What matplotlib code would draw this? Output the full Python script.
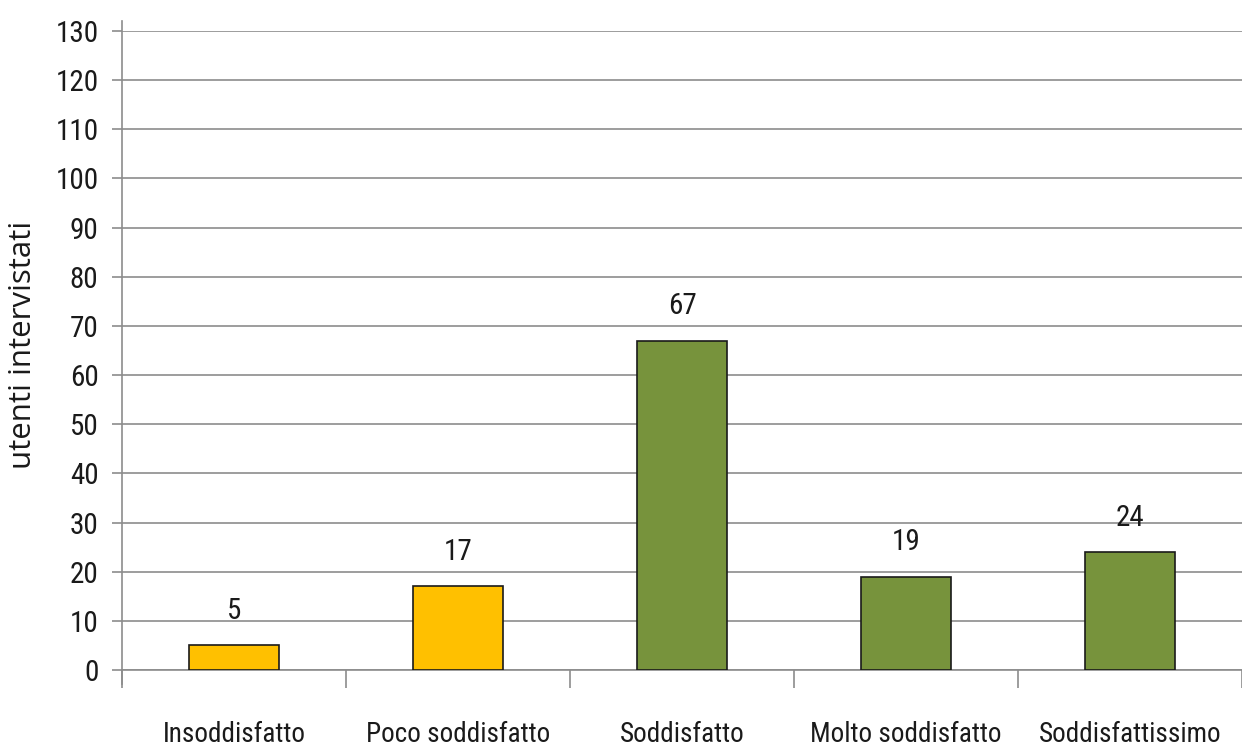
import matplotlib
matplotlib.use("Agg")
import matplotlib.pyplot as plt
import matplotlib.transforms as mtransforms

categories = ["Insoddisfatto", "Poco soddisfatto", "Soddisfatto",
              "Molto soddisfatto", "Soddisfattissimo"]
values = [5, 17, 67, 19, 24]
bar_colors = ["#FFC000", "#FFC000", "#77933C", "#77933C", "#77933C"]
y_ticks = list(range(0, 131, 10))

narrow = ["Roboto Condensed", "PT Sans Narrow", "Archivo Narrow", "DejaVu Sans"]
text_color = "#1a1a1a"
grid_color = "#8c8c8c"

fig = plt.figure(figsize=(12.42, 7.47), dpi=100)
W, H = 1242, 747
left, right = 122, 1242
top, bottom = 31, 670
ax = fig.add_axes([left / W, 1 - bottom / H, (right - left) / W, (bottom - top) / H])

x = list(range(len(categories)))
ax.bar(x, values, width=0.4, color=bar_colors, edgecolor=text_color, linewidth=1.2, zorder=3)

# value labels above each bar
for xi, v in zip(x, values):
    ax.annotate(str(v), (xi, v), xytext=(0, 19), textcoords="offset points",
                ha="center", va="baseline", fontsize=21, family=narrow, color=text_color)

cat_w = 226.0
ax.set_xlim(-0.5, -0.5 + (right - left) / cat_w)
ax.set_ylim(0, 130)

ax.set_yticks(y_ticks)
ax.set_yticklabels([str(t) for t in y_ticks], family=narrow, fontsize=21, color=text_color)
ax.yaxis.grid(True, color=grid_color, linewidth=1.2, zorder=0)
ax.set_axisbelow(True)

# tick marks at category boundaries, category names below
ax.set_xticks([i - 0.5 for i in range(len(categories) + 1)])
ax.set_xticklabels([])
ax.tick_params(axis="x", length=13, width=1.2, color=grid_color, direction="out")
ax.tick_params(axis="y", length=7, width=1.2, color=grid_color, pad=10)

label_tr = mtransforms.blended_transform_factory(ax.transData, ax.transAxes)
label_y = (bottom - 742) / (bottom - top)
for xi, name in zip(x, categories):
    ax.text(xi, label_y, name, transform=label_tr, ha="center", va="baseline",
            fontsize=19.5, family=narrow, color=text_color, clip_on=False)

for side in ["top", "right"]:
    ax.spines[side].set_visible(False)
for side in ["left", "bottom"]:
    ax.spines[side].set_color(grid_color)
    ax.spines[side].set_linewidth(1.2)
ax.spines["left"].set_bounds(-2.8, 132)

fig.text(23 / W, 1 - 345 / H, "utenti intervistati", rotation=90, ha="center", va="center",
         fontsize=22.5, family=["Open Sans", "DejaVu Sans"], color=text_color)

fig.savefig("out.png", dpi=100)
